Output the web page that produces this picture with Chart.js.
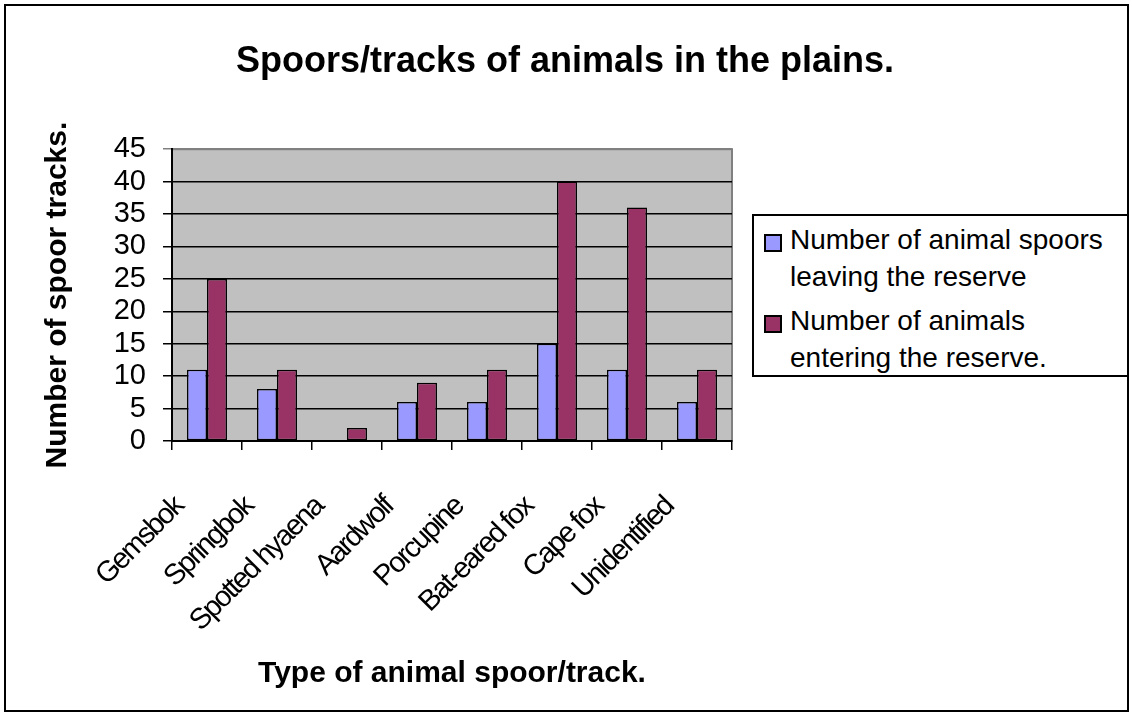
<!DOCTYPE html>
<html>
<head>
<meta charset="utf-8">
<script src="https://cdn.jsdelivr.net/npm/chart.js@4.4.0/dist/chart.umd.min.js"></script>
<style>
body { margin: 0; background: #fff; }
#wrap { position: relative; width: 1132px; height: 715px; }
#frame { position: absolute; left: 4px; top: 4px; width: 1121px; height: 704px; border: 2px solid #000; pointer-events: none; }
#legend { position: absolute; left: 752px; top: 214px; width: 373px; height: 159px; border: 2px solid #000; background: #fff;
  font-family: 'Liberation Sans', Arial, sans-serif; font-size: 28px; color: #000; }
.item { position: absolute; left: 36px; line-height: 37px; }
.swatch { position: absolute; left: 10px; width: 14px; height: 14px; border: 2px solid #000; }
</style>
</head>
<body>
<div id="wrap">
  <canvas id="barChart" width="1132" height="715"></canvas>
  <div id="legend"></div>
  <div id="frame"></div>
</div>
<script>
// animals along the x axis
var animals = ['Gemsbok', 'Springbok', 'Spotted hyaena', 'Aardwolf', 'Porcupine', 'Bat-eared fox', 'Cape fox', 'Unidentified']
var leaving = [11, 8, 0, 6, 6, 15, 11, 6]
var entering = [25, 11, 2, 9, 11, 40, 36, 11]
var seriesNames = [['Number of animal spoors', 'leaving the reserve'], ['Number of animals', 'entering the reserve.']]
var seriesColors = ['#9999FF', '#993366']
var yTicks = [0, 5, 10, 15, 20, 25, 30, 35, 40, 45]

var fontName = "'Liberation Sans', Arial, sans-serif"

// grey plot area + grey frame, drawn before the grid
var plotBackground = {
    id: 'plotBackground',
    beforeDraw: function (chart) {
        var a = chart.chartArea
        var ctx = chart.ctx
        ctx.save()
        ctx.fillStyle = '#C0C0C0'
        ctx.fillRect(a.left, a.top, a.right - a.left, a.bottom - a.top)
        ctx.strokeStyle = '#808080'
        ctx.lineWidth = 2
        ctx.strokeRect(a.left, a.top, a.right - a.left, a.bottom - a.top)
        ctx.restore()
    }
}

// x labels are drawn after the bars (ticks.z = 1), squeeze them a bit like the original
var squeezeLabels = {
    id: 'squeezeLabels',
    afterDatasetsDraw: function (chart) { chart.ctx.letterSpacing = '-2px' },
    afterDraw: function (chart) { chart.ctx.letterSpacing = '0px' }
}

var ctx = document.getElementById('barChart').getContext('2d')
var barChart = new Chart(ctx, {
    type: 'bar',
    data: {
        labels: animals,
        datasets: [
            {
                label: seriesNames[0].join(' '),
                data: leaving,
                backgroundColor: seriesColors[0],
                borderColor: '#000',
                borderWidth: 1.5,
                borderSkipped: false,
                categoryPercentage: 0.571,
                barPercentage: 1.0
            },
            {
                label: seriesNames[1].join(' '),
                data: entering,
                backgroundColor: seriesColors[1],
                borderColor: '#000',
                borderWidth: 1.5,
                borderSkipped: false,
                categoryPercentage: 0.571,
                barPercentage: 1.0
            }
        ]
    },
    options: {
        responsive: false,
        devicePixelRatio: 1,
        animation: false,
        layout: { padding: { left: 30, right: 32, top: 10, bottom: 10 } },
        plugins: {
            legend: { display: false },
            tooltip: { enabled: false },
            title: {
                display: true,
                text: 'Spoors/tracks of animals in the plains.',
                color: '#000',
                font: { family: fontName, size: 36, weight: 'bold' },
                padding: { top: 30, bottom: 66 }
            }
        },
        scales: {
            x: {
                grid: { display: true, drawOnChartArea: false, drawTicks: true, tickLength: 9, color: '#000', lineWidth: 1.5, offset: true },
                border: { display: true, color: '#000', width: 2 },
                ticks: {
                    z: 1,
                    color: '#000',
                    minRotation: 45,
                    maxRotation: 45,
                    autoSkip: false,
                    padding: 40,
                    labelOffset: -28,
                    font: { family: fontName, size: 29 }
                },
                title: {
                    display: true,
                    text: 'Type of animal spoor/track.',
                    color: '#000',
                    font: { family: fontName, size: 30, weight: 'bold' },
                    padding: { top: 0, bottom: 13 }
                },
                afterFit: function (s) { s.height = 264 }
            },
            y: {
                min: 0,
                max: 45,
                afterBuildTicks: function (s) { s.ticks = yTicks.map(function (v) { return { value: v } }) },
                grid: {
                    color: function (c) { return c.tick && c.tick.value === 45 ? '#808080' : '#000' },
                    lineWidth: 1.5,
                    drawTicks: true,
                    tickLength: 9
                },
                border: { display: true, color: '#000', width: 2 },
                ticks: {
                    autoSkip: false,
                    color: '#000',
                    padding: 17,
                    font: { family: fontName, size: 29 }
                },
                title: {
                    display: true,
                    text: 'Number of spoor tracks.',
                    color: '#000',
                    font: { family: fontName, size: 30, weight: 'bold' },
                    padding: { top: 10, bottom: 0 }
                },
                afterFit: function (s) { s.width = 142 }
            },
            pad: {
                position: 'right',
                display: true,
                grid: { display: false, drawTicks: false },
                border: { display: false },
                ticks: { display: false },
                afterFit: function (s) { s.width = 368 }
            }
        }
    },
    plugins: [plotBackground, squeezeLabels]
})

// legend box built from the dataset names and colours
var legendBox = document.getElementById('legend')
var lineTops = [15, 96]
for (var i = 0; i < seriesNames.length; i++) {
    var sw = document.createElement('div')
    sw.className = 'swatch'
    sw.style.top = (lineTops[i] + 3) + 'px'
    sw.style.background = seriesColors[i]
    legendBox.appendChild(sw)
    var it = document.createElement('div')
    it.className = 'item'
    it.style.top = (lineTops[i] - 10) + 'px'
    it.innerHTML = seriesNames[i].join('<br>')
    legendBox.appendChild(it)
}
</script>
</body>
</html>
